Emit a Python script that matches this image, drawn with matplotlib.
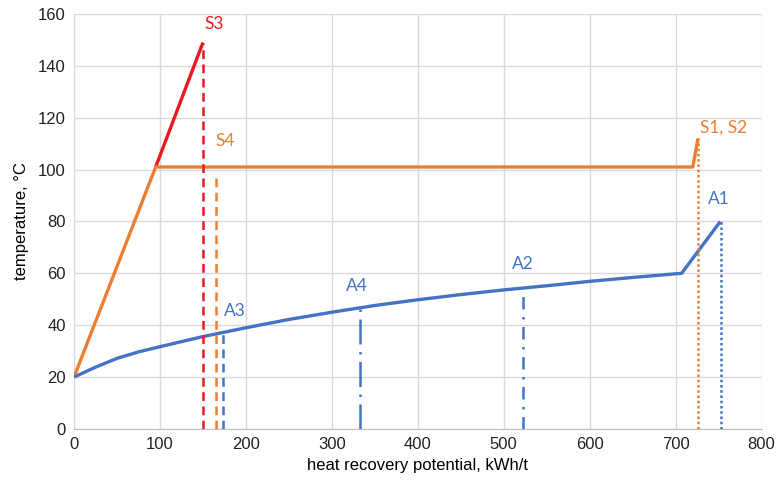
import matplotlib.pyplot as plt

# curves
s3_x = [95, 150]
s3_y = [101, 149]
s12_x = [0, 95, 720, 726]
s12_y = [20, 101, 101, 112]
a_x = [0, 25, 50, 75, 100, 150, 200, 250, 300, 350, 400, 450, 500, 550, 600, 650, 707, 752]
a_y = [20, 23.8, 27.2, 29.7, 31.7, 35.6, 39.0, 42.2, 45, 47.6, 49.8, 51.8, 53.6, 55.2, 56.9, 58.4, 60, 80]

# vertical markers: name, x, top, colour, style
markers = [
    ("S3", 150, 149, "#E8191F", (0, (3.5, 2.2))),
    ("S4", 165, 97, "#ED7D31", (0, (3.5, 2.2))),
    ("A3", 173, 37, "#4472C4", (0, (3.5, 2.2))),
    ("A4", 333, 46.5, "#4472C4", (0, (10, 3, 1, 3))),
    ("A2", 522, 54, "#4472C4", (0, (5, 3, 1, 3))),
    ("S1, S2", 726, 112, "#ED7D31", (0, (1, 1.1))),
    ("A1", 753, 80, "#4472C4", (0, (1, 1.1))),
]
label_pos = {
    "S3": (152, 153, "left"),
    "S4": (164, 108, "left"),
    "A3": (174, 42.5, "left"),
    "A4": (329, 52, "center"),
    "A2": (522, 60.5, "center"),
    "S1, S2": (728, 113, "left"),
    "A1": (750, 85.5, "center"),
}

plt.rcParams['font.family'] = ['Liberation Sans', 'DejaVu Sans']
fig = plt.figure(figsize=(7.76, 4.83), dpi=100)
ax = fig.add_axes([0.0954, 0.112, 0.886, 0.859])

ax.plot(s3_x, s3_y, color="#E8191F", linewidth=2.4, zorder=3, solid_capstyle="butt")
ax.plot(s12_x, s12_y, color="#ED7D31", linewidth=2.4, zorder=4, solid_capstyle="butt")
ax.plot(a_x, a_y, color="#4472C4", linewidth=2.4, zorder=4, solid_capstyle="butt")

for name, x, top, col, ls in markers:
    ax.plot([x, x], [0, top], color=col, linestyle=ls, linewidth=1.8, zorder=5)

for name, x, top, col, ls in markers:
    lx, ly, ha = label_pos[name]
    ax.text(lx, ly, name, color=col, fontsize=12.5, ha=ha, va="bottom",
            family=['Lato', 'DejaVu Sans'])

ax.set_xlim(0, 800)
ax.set_ylim(0, 160)
ax.set_xticks(range(0, 801, 100))
ax.set_yticks(range(0, 161, 20))
ax.grid(True, color="#D9D9D9", linewidth=1)
ax.set_axisbelow(True)
for s in ["top", "right"]:
    ax.spines[s].set_visible(False)
ax.spines["left"].set_color("#D9D9D9")
ax.spines["bottom"].set_color("#BFBFBF")
ax.tick_params(length=0, labelsize=12, colors="#222222", pad=6)
ax.set_xlabel("heat recovery potential, kWh/t", fontsize=12, labelpad=4)
ax.set_ylabel("temperature, °C", fontsize=12, labelpad=6)

fig.savefig("out.png", dpi=100)
